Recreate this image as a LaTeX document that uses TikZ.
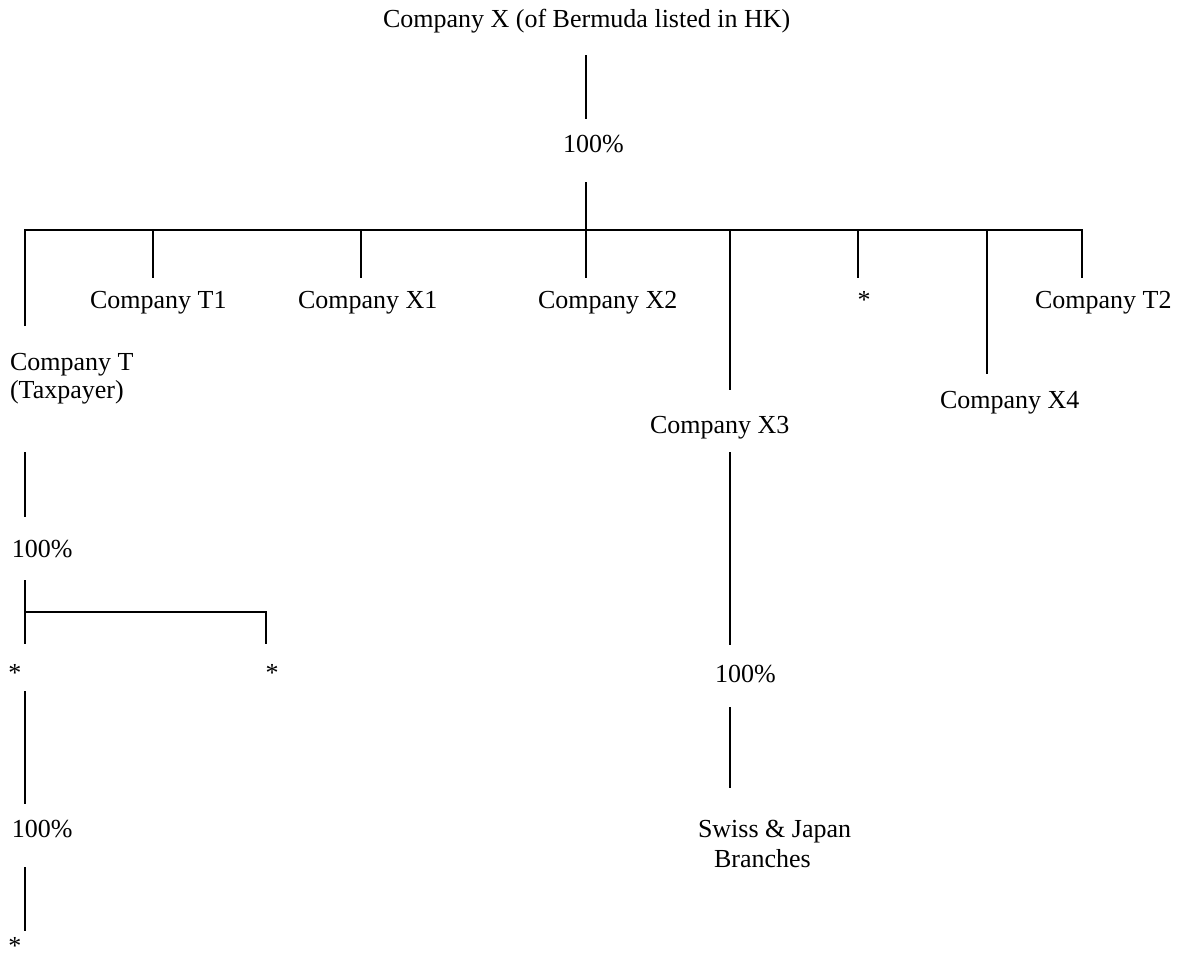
\documentclass[tikz,border=0pt]{standalone}
\usepackage{fontspec}
\setmainfont{Liberation Serif}
\begin{document}
\begin{tikzpicture}[x=1pt,y=-1pt,
  lbl/.style={anchor=base west,inner sep=0pt,outer sep=0pt,font=\fontsize{26}{30}\selectfont},
  ln/.style={line width=2pt,line join=miter}]
\useasboundingbox (0,0) rectangle (1183,959);
% labels
\node[lbl] (title) at (383,27) {Company X (of Bermuda listed in HK)};
\node[lbl] (p1) at (563,152) {100\%};
\node[lbl] (t1) at (90,308) {Company T1};
\node[lbl] (x1) at (298,308) {Company X1};
\node[lbl] (x2) at (538,308) {Company X2};
\node[lbl] (s1) at (857.5,308) {*};
\node[lbl] (t2) at (1035,308) {Company T2};
\node[lbl] (tT) at (10,370) {Company T};
\node[lbl] (tTb) at (10,398) {(Taxpayer)};
\node[lbl] (x3) at (650,433) {Company X3};
\node[lbl] (x4) at (940,408) {Company X4};
\node[lbl] (p2) at (12,557) {100\%};
\node[lbl] (sa) at (8.5,681) {*};
\node[lbl] (sb) at (265.5,681) {*};
\node[lbl] (p3) at (12,837) {100\%};
\node[lbl] (sc) at (8.5,954) {*};
\node[lbl] (p4) at (715,682) {100\%};
\node[lbl] (sw) at (698,837) {Swiss \& Japan};
\node[lbl] (br) at (714,867) {Branches};
% connector end points
\coordinate (a0) at (586,55);
\coordinate (a1) at (586,119);
\coordinate (a2) at (586,182);
\coordinate (bar) at (586,230);
\coordinate (bl) at (25,230);
\coordinate (br0) at (1082,230);
\coordinate (dT) at (25,326);
\coordinate (dT2) at (1082,278);
\coordinate (u1) at (153,230); \coordinate (d1) at (153,278);
\coordinate (u2) at (361,230); \coordinate (d2) at (361,278);
\coordinate (d3) at (586,278);
\coordinate (u4) at (730,230); \coordinate (d4) at (730,390);
\coordinate (u5) at (858,230); \coordinate (d5) at (858,278);
\coordinate (u6) at (987,230); \coordinate (d6) at (987,374);
% connectors
\draw[ln] (a0) -- (a1);
\draw[ln] (a2) -- (bar);
\draw[ln] (dT) -- (bl) -- (br0) -- (dT2);
\draw[ln] (bar) -- (d3);
\draw[ln] (u1) -- (d1);
\draw[ln] (u2) -- (d2);
\draw[ln] (u4) -- (d4);
\draw[ln] (u5) -- (d5);
\draw[ln] (u6) -- (d6);
% left column
\coordinate (l1) at (25,452); \coordinate (l2) at (25,517);
\coordinate (l3) at (25,580); \coordinate (l4) at (25,644);
\coordinate (lh) at (25,612); \coordinate (rh) at (266,612); \coordinate (rd) at (266,644);
\coordinate (l5) at (25,691); \coordinate (l6) at (25,804);
\coordinate (l7) at (25,867); \coordinate (l8) at (25,931);
\draw[ln] (l1) -- (l2);
\draw[ln] (l3) -- (l4);
\draw[ln] (lh) -- (rh) -- (rd);
\draw[ln] (l5) -- (l6);
\draw[ln] (l7) -- (l8);
% right column
\coordinate (r1) at (730,452); \coordinate (r2) at (730,645);
\coordinate (r3) at (730,707); \coordinate (r4) at (730,788);
\draw[ln] (r1) -- (r2);
\draw[ln] (r3) -- (r4);
\end{tikzpicture}
\end{document}
